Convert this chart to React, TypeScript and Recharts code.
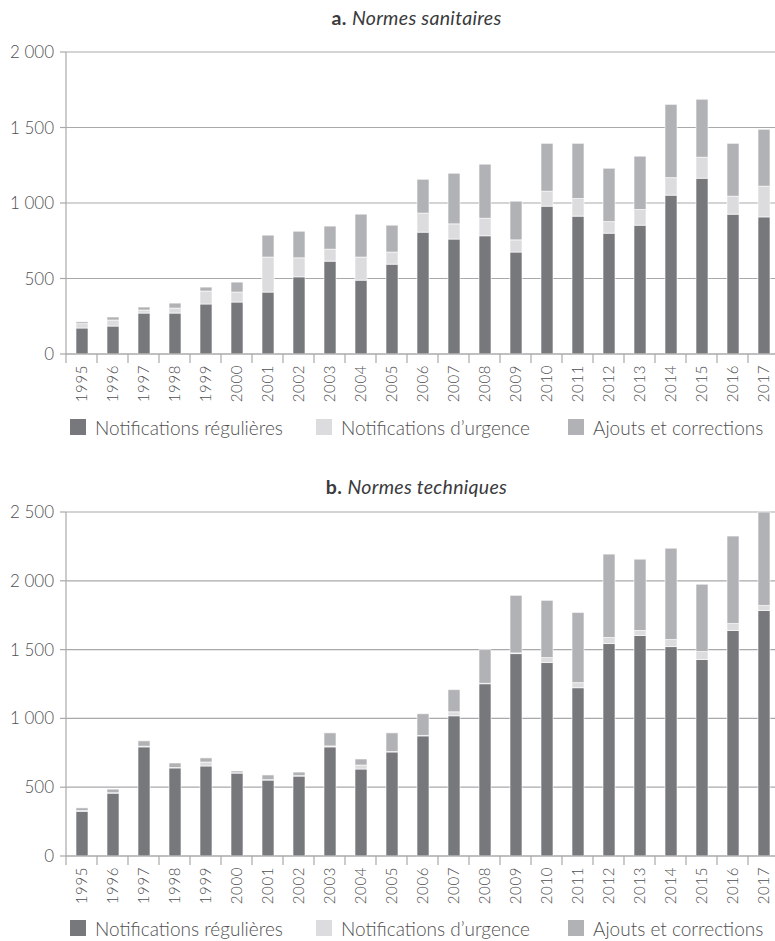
import React from 'react';
import { BarChart, Bar, XAxis, YAxis, CartesianGrid } from 'recharts';

const years = [
    '1995', '1996', '1997', '1998', '1999', '2000', '2001', '2002', '2003', '2004', '2005', '2006',
    '2007', '2008', '2009', '2010', '2011', '2012', '2013', '2014', '2015', '2016', '2017',
];

const seriesNames = ['Notifications régulières', 'Notifications d’urgence', 'Ajouts et corrections'];
const seriesColors = ['#77787c', '#dcdcde', '#b1b2b5'];

// a. Normes sanitaires
const sanitRegular = [172, 185, 271, 271, 331, 344, 410, 511, 615, 489, 595, 807, 761, 783, 675, 979, 913, 800, 853, 1052, 1164, 926, 908];
const sanitUrgent = [29, 40, 20, 33, 86, 66, 232, 126, 79, 153, 80, 126, 101, 116, 81, 99, 117, 77, 104, 116, 139, 119, 203];
const sanitAdded = [12, 20, 20, 33, 26, 66, 145, 176, 153, 284, 178, 224, 335, 358, 256, 317, 365, 353, 353, 485, 384, 350, 377];
const sanitTicks = [0, 500, 1000, 1500, 2000];

// b. Normes techniques
const techRegular = [325, 457, 793, 640, 654, 603, 552, 581, 793, 632, 756, 873, 1019, 1252, 1471, 1406, 1223, 1544, 1603, 1522, 1428, 1639, 1785];
const techUrgent = [5, 3, 5, 3, 29, 2, 3, 3, 7, 29, 3, 3, 29, 3, 5, 36, 37, 44, 36, 51, 58, 51, 36];
const techAdded = [20, 26, 39, 33, 30, 13, 34, 26, 95, 44, 136, 158, 161, 245, 418, 416, 510, 606, 518, 664, 489, 635, 679];
const techTicks = [0, 500, 1000, 1500, 2000, 2500];

const FONT = 'Lato, "Open Sans", sans-serif';
const TEXT = '#505052';
const LINE = '#a9a9ab';

const CHART_W = 790;
const Y_W = 66;
const RIGHT = 11;
const BAND = (CHART_W - Y_W - RIGHT) / years.length;
const TICK_SIZE = 9;
const TICK_MARGIN = 2;
const LEGEND_X = [70, 316, 568];

const fmt = (v: number) => (v >= 1000 ? `${Math.floor(v / 1000)} ${String(v % 1000).padStart(3, '0')}` : String(v));

const buildRows = (a: number[], b: number[], c: number[]) =>
    years.map((year, i) => ({ year, regular: a[i], urgent: b[i], added: c[i] }));

const YearTick = (props: any) => {
    const { x, y, payload } = props;
    const axisY = y - TICK_SIZE - TICK_MARGIN;
    return (
        <g>
            <line x1={x - BAND / 2} x2={x - BAND / 2} y1={axisY} y2={axisY + TICK_SIZE} stroke={LINE} strokeWidth={1.2} />
            <text
                x={x}
                y={y}
                transform={`rotate(-90, ${x}, ${y})`}
                textAnchor="end"
                dy="0.36em"
                fill={TEXT}
                fontSize={15}
                fontWeight={300}
                letterSpacing={0.6}
                fontFamily={FONT}
            >
                {payload.value}
            </text>
        </g>
    );
};

interface PanelProps {
    top: number;
    height: number;
    letter: string;
    title: string;
    titleTop: number;
    legendTop: number;
    rows: any[];
    ticks: number[];
}

const Panel: React.FC<PanelProps> = ({ top, height, letter, title, titleTop, legendTop, rows, ticks }) => (
    <>
        <div
            style={{
                position: 'absolute', left: 0, top: titleTop, width: 833, textAlign: 'center',
                fontFamily: FONT, fontSize: 19.5, lineHeight: '22px', letterSpacing: 0.3, color: '#3a3a3c',
            }}
        >
            <b>{letter}</b> <i style={{ fontWeight: 400 }}>{title}</i>
        </div>
        <div style={{ position: 'absolute', left: 0, top }}>
            <BarChart
                width={CHART_W}
                height={height}
                data={rows}
                margin={{ top: 52, right: RIGHT, bottom: 6, left: 0 }}
                barSize={12}
            >
                <CartesianGrid vertical={false} stroke={LINE} strokeWidth={1.2} />
                <XAxis
                    dataKey="year"
                    interval={0}
                    height={50}
                    tickLine={false}
                    tickSize={TICK_SIZE}
                    tickMargin={TICK_MARGIN}
                    axisLine={{ stroke: LINE, strokeWidth: 1.2 }}
                    tick={<YearTick />}
                />
                <YAxis
                    width={Y_W}
                    domain={[0, ticks[ticks.length - 1]]}
                    ticks={ticks}
                    interval={0}
                    tickFormatter={fmt}
                    tickSize={6}
                    tickMargin={6}
                    axisLine={{ stroke: LINE, strokeWidth: 1.2 }}
                    tickLine={{ stroke: LINE, strokeWidth: 1.2 }}
                    tick={{ fill: TEXT, fontSize: 17, fontWeight: 300, fontFamily: FONT }}
                />
                <Bar dataKey="regular" name={seriesNames[0]} stackId="s" fill={seriesColors[0]} stroke="#fff" strokeWidth={0.6} isAnimationActive={false} />
                <Bar dataKey="urgent" name={seriesNames[1]} stackId="s" fill={seriesColors[1]} stroke="#fff" strokeWidth={0.6} isAnimationActive={false} />
                <Bar dataKey="added" name={seriesNames[2]} stackId="s" fill={seriesColors[2]} stroke="#fff" strokeWidth={0.6} isAnimationActive={false} />
            </BarChart>
        </div>
        {seriesNames.map((name, i) => (
            <div
                key={name}
                style={{
                    position: 'absolute', left: LEGEND_X[i], top: legendTop, height: 16,
                    display: 'flex', alignItems: 'center', whiteSpace: 'nowrap',
                    fontFamily: FONT, fontWeight: 300, fontSize: 19, color: TEXT,
                }}
            >
                <span style={{ width: 16, height: 16, background: seriesColors[i], marginRight: 9, flex: 'none' }} />
                {name}
            </div>
        ))}
    </>
);

export default function App() {
    return (
        <div style={{ position: 'fixed', left: 0, top: 0, width: 775, height: 941, overflow: 'hidden', background: '#fff' }}>
            <Panel
                top={0}
                height={410}
                letter="a."
                title="Normes sanitaires"
                titleTop={7}
                legendTop={419}
                rows={buildRows(sanitRegular, sanitUrgent, sanitAdded)}
                ticks={sanitTicks}
            />
            <Panel
                top={460}
                height={452}
                letter="b."
                title="Normes techniques"
                titleTop={476}
                legendTop={920}
                rows={buildRows(techRegular, techUrgent, techAdded)}
                ticks={techTicks}
            />
        </div>
    );
}
